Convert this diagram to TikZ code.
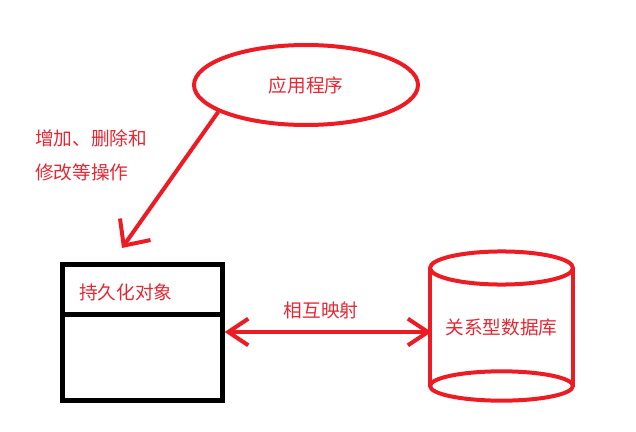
\documentclass[tikz,border=0pt]{standalone}
\usepackage{fontspec}
\setmainfont{Noto Sans CJK SC}
\usetikzlibrary{arrows.meta,shapes.geometric}
\definecolor{inkred}{RGB}{237,28,36}
\definecolor{labelred}{RGB}{228,40,52}

\tikzset{
  widebarb/.tip={Straight Barb[length=15pt,width=28pt]},
  slimbarb/.tip={Straight Barb[length=15pt,width=20pt]},
}

\begin{document}
\begin{tikzpicture}[x=0.75pt,y=-0.75pt,
  redline/.style={draw=inkred, line width=3pt},
  blackline/.style={draw=black, line width=3.75pt},
  lbl/.style={text=labelred, font=\fontsize{14}{25.5}\selectfont, inner sep=0pt},
]
\useasboundingbox[fill=white] (0,0) rectangle (636,432);

% application (ellipse)
\node[ellipse, redline, lbl, minimum width=168pt, minimum height=60pt] (app) at (306,85) {应用程序};

% persistent object (two-compartment box)
\node[rectangle, blackline, minimum width=120pt, minimum height=102pt, inner sep=0pt, outer sep=0pt] (obj) at (142,332) {};
\draw[blackline] ([yshift=-37.5pt]obj.north west) -- ([yshift=-37.5pt]obj.north east);
\node[lbl, anchor=west] (objname) at (79,292) {持久化对象};

% relational database (cylinder)
\node[rectangle, lbl, minimum width=107pt, minimum height=88.5pt, inner sep=0pt, outer sep=0pt] (db) at (501.5,327) {关系型数据库};
\draw[redline] (db.north west) -- (db.south west) (db.north east) -- (db.south east);
\draw[redline] (db.north) ellipse [x radius=53.6pt, y radius=12.4pt];
\draw[redline] (db.south) ellipse [x radius=53.6pt, y radius=11pt];

% operations from the application onto the object
\coordinate (hit) at (122,248);
\draw[redline, -widebarb] (app.197) -- (hit);
\node[lbl, align=left, anchor=west] (ops) at (35,155) {增加、删除和\\修改等操作};

% mapping between object and database
\draw[redline, slimbarb-slimbarb] ([xshift=2pt]obj.east) -- ([xshift=1pt]obj.east -| db.west);
\node[lbl] (map) at (321,310) {相互映射};
\end{tikzpicture}
\end{document}
